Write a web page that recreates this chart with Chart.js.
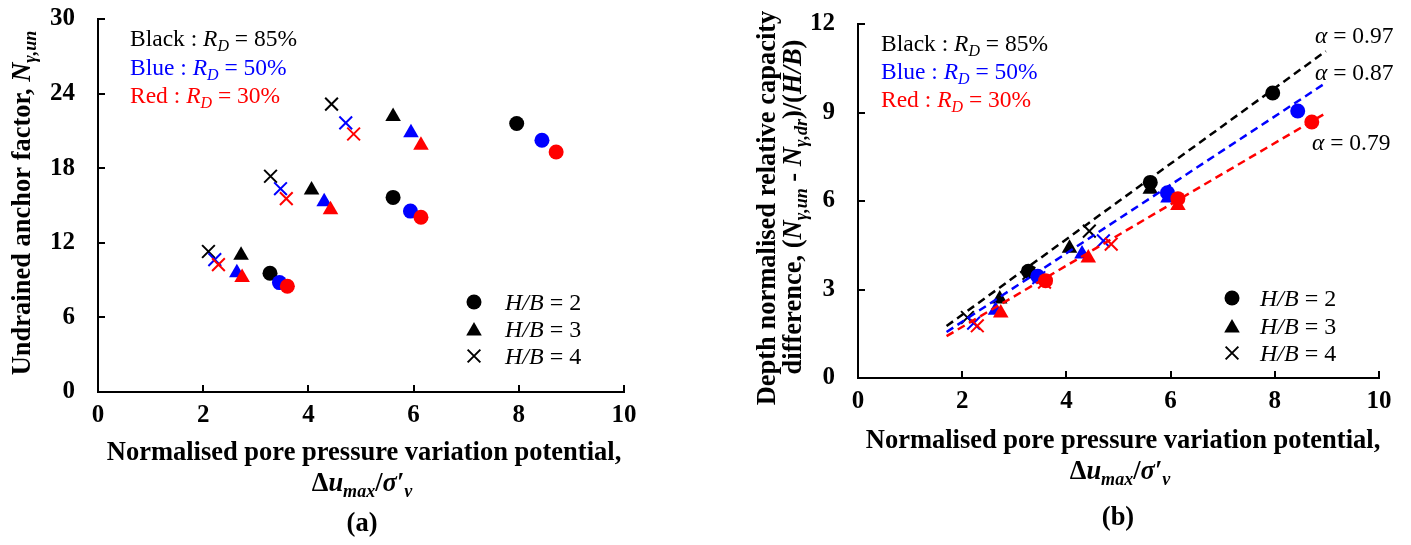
<!DOCTYPE html>
<html><head><meta charset="utf-8">
<script src="https://cdn.jsdelivr.net/npm/chart.js@4.4.1/dist/chart.umd.min.js"></script>
<style>
html,body{margin:0;padding:0;background:#fff;}
#wrap{position:relative;width:1411px;height:545px;background:#fff;}
canvas{position:absolute;left:0;top:0;}
</style></head><body>
<div id="wrap"><canvas id="c1" width="1411" height="545"></canvas><canvas id="c2" width="1411" height="545"></canvas></div>
<script>
// ---------------- DATA ----------------
const xTickValues = [0, 2, 4, 6, 8, 10];
const yTickValuesA = [0, 6, 12, 18, 24, 30];
const yTickValuesB = [0, 3, 6, 9, 12];

// H/B = 2 (circles): normalised pore pressure variation potential
const x_HB2_RD85 = [3.27, 5.61, 7.96];
const x_HB2_RD50 = [3.45, 5.94, 8.44];
const x_HB2_RD30 = [3.60, 6.14, 8.71];
// H/B = 3 (triangles)
const x_HB3_RD85 = [2.72, 4.06, 5.61];
const x_HB3_RD50 = [2.64, 4.30, 5.95];
const x_HB3_RD30 = [2.74, 4.42, 6.14];
// H/B = 4 (crosses)
const x_HB4_RD85 = [2.10, 3.28, 4.44];
const x_HB4_RD50 = [2.22, 3.47, 4.71];
const x_HB4_RD30 = [2.29, 3.58, 4.86];

// (a) Undrained anchor factor N_gamma,un
const N_HB2_RD85 = [9.55, 15.65, 21.6];
const N_HB2_RD50 = [8.8, 14.55, 20.25];
const N_HB2_RD30 = [8.5, 14.05, 19.3];
const N_HB3_RD85 = [11.0, 16.25, 22.15];
const N_HB3_RD50 = [9.6, 15.3, 20.85];
const N_HB3_RD30 = [9.2, 14.65, 19.85];
const N_HB4_RD85 = [11.3, 17.35, 23.15];
const N_HB4_RD50 = [10.65, 16.35, 21.65];
const N_HB4_RD30 = [10.25, 15.55, 20.75];

// (b) Depth normalised relative capacity difference
const D_HB2_RD85 = [3.62, 6.63, 9.66];
const D_HB2_RD50 = [3.45, 6.28, 9.05];
const D_HB2_RD30 = [3.30, 6.08, 8.68];
const D_HB3_RD85 = [2.68, 4.40, 6.40];
const D_HB3_RD50 = [2.30, 4.20, 6.10];
const D_HB3_RD30 = [2.20, 4.07, 5.85];
const D_HB4_RD85 = [2.05, 3.55, 4.98];
const D_HB4_RD50 = [1.86, 3.40, 4.65];
const D_HB4_RD30 = [1.77, 3.25, 4.54];

// (b) linear trend lines (end points)
const fit_RD85_x = [1.70, 8.98];
const fit_RD85_y = [1.76, 11.08];
const fit_RD50_x = [1.70, 9.00];
const fit_RD50_y = [1.56, 10.03];
const fit_RD30_x = [1.70, 8.95];
const fit_RD30_y = [1.42, 8.95];
const alphaLabels = ['0.97', '0.87', '0.79'];

// ---------------- STYLE ----------------
const FAM = "'Liberation Serif','Times New Roman',serif";
const BLACK = '#000000', BLUE = '#0000FF', RED = '#FF0000';
const TITLE_SIZE = 26.5, TICK_SIZE = 25, LEG_SIZE = 23.5;

function pts(xs, ys) { return xs.map((x, i) => ({x: x, y: ys[i]})); }

function markerSet(xs, ys, color, shape) {
  const ds = {data: pts(xs, ys), pointStyle: shape, backgroundColor: color, borderColor: color,
    pointRadius: 7.5, pointBorderWidth: 0, pointHoverRadius: 7.5, showLine: false};
  if (shape === 'triangle') { ds.pointRadius = 9; }
  if (shape === 'crossRot') { ds.pointRadius = 9; ds.pointBorderWidth = 2; ds.pointHoverRadius = 9; }
  return ds;
}
function lineSet(xs, ys, color) {
  return {type: 'line', data: pts(xs, ys), borderColor: color, borderWidth: 2.5, borderDash: [8, 5],
    pointRadius: 0, fill: false, showLine: true, tension: 0};
}

function richText(ctx, segs, x, y, o) {
  ctx.save();
  ctx.translate(x, y);
  if (o.rotate) ctx.rotate(o.rotate);
  ctx.textBaseline = 'alphabetic';
  ctx.textAlign = 'left';
  const pieces = segs.map(s => {
    const sz = s.sub ? o.size * 0.68 : o.size;
    const font = (s.i ? 'italic ' : '') + (s.b ? 'bold ' : '') + sz + 'px ' + FAM;
    ctx.font = font;
    return {t: s.t, font: font, w: ctx.measureText(s.t).width, dy: s.sub ? o.size * 0.22 : 0};
  });
  const total = pieces.reduce((a, p) => a + p.w, 0);
  let cx = o.align === 'center' ? -total / 2 : 0;
  ctx.fillStyle = o.color || '#000';
  for (const p of pieces) { ctx.font = p.font; ctx.fillText(p.t, cx, p.dy); cx += p.w; }
  ctx.restore();
}

function drawMarker(ctx, shape, x, y) {
  ctx.save();
  ctx.fillStyle = '#000'; ctx.strokeStyle = '#000';
  if (shape === 'circle') { ctx.beginPath(); ctx.arc(x, y, 7.5, 0, Math.PI * 2); ctx.fill(); }
  else if (shape === 'triangle') {
    const r = 9; ctx.beginPath();
    ctx.moveTo(x, y - r); ctx.lineTo(x + r * Math.sin(2.0944), y - r * Math.cos(2.0944));
    ctx.lineTo(x + r * Math.sin(4.1888), y - r * Math.cos(4.1888)); ctx.closePath(); ctx.fill();
  } else {
    const d = 9 * Math.cos(Math.PI / 4); ctx.lineWidth = 2; ctx.beginPath();
    ctx.moveTo(x - d, y - d); ctx.lineTo(x + d, y + d); ctx.moveTo(x - d, y + d); ctx.lineTo(x + d, y - d); ctx.stroke();
  }
  ctx.restore();
}

const inwardTicks = {
  id: 'inwardTicks',
  afterDraw(chart) {
    const ctx = chart.ctx, a = chart.chartArea;
    const xs = chart.scales.x, ys = chart.scales.y;
    ctx.save(); ctx.strokeStyle = '#000'; ctx.lineWidth = 2;
    ctx.beginPath();
    xs.ticks.forEach(t => { const p = Math.round(xs.getPixelForValue(t.value)); ctx.moveTo(p, a.bottom); ctx.lineTo(p, a.bottom - 7); });
    ys.ticks.forEach(t => { const p = Math.round(ys.getPixelForValue(t.value)); ctx.moveTo(a.left, p); ctx.lineTo(a.left + 7, p); });
    ctx.stroke(); ctx.restore();
  }
};

function colourLegend(ctx, x, y0, dy) {
  const rows = [['Black : ', '85%', BLACK], ['Blue : ', '50%', BLUE], ['Red : ', '30%', RED]];
  rows.forEach((r, i) => {
    richText(ctx, [{t: r[0]}, {t: 'R', i: 1}, {t: 'D', i: 1, sub: 1}, {t: ' = ' + r[1]}], x, y0 + i * dy, {size: LEG_SIZE, color: r[2]});
  });
}
function shapeLegend(ctx, mx, tx, ys) {
  const shapes = ['circle', 'triangle', 'crossRot'];
  shapes.forEach((s, i) => {
    drawMarker(ctx, s, mx, ys[i] + (s === 'triangle' ? 2 : 0));
    richText(ctx, [{t: 'H/B', i: 1}, {t: ' = ' + (i + 2)}], tx, ys[i] + 8, {size: 24});
  });
}
const xTitleSegs2 = [{t: '\u0394', b: 1}, {t: 'u', b: 1, i: 1}, {t: 'max', b: 1, i: 1, sub: 1}, {t: '/', b: 1}, {t: '\u03C3\u2032', b: 1, i: 1}, {t: 'v', b: 1, i: 1, sub: 1}];

function scaleOpts(min, max, step, ticksArr, isX) {
  return {
    type: 'linear', min: min, max: max, position: isX ? 'bottom' : 'left',
    afterBuildTicks: s => { s.ticks = ticksArr.map(v => ({value: v})); },
    grid: {display: false, drawTicks: false},
    border: {display: true, color: '#000', width: 2},
    ticks: {color: '#000', padding: isX ? 9 : 23, font: {family: FAM, size: TICK_SIZE, weight: 'bold'}, maxRotation: 0},
    afterFit: s => {
      if (isX) { s.height = 60; s.paddingLeft = 5; s.paddingRight = 5; }
      else { s.width = 60; s.paddingTop = 5; s.paddingBottom = 5; }
    }
  };
}
function baseOptions(pad) {
  return {
    responsive: false, animation: false, devicePixelRatio: 1,
    layout: {padding: pad},
    plugins: {legend: {display: false}, tooltip: {enabled: false}},
    events: []
  };
}

// ---------------- CHART (a) ----------------
const optA = baseOptions({left: 38, right: 787, top: 19, bottom: 93});
optA.scales = {x: scaleOpts(0, 10, 2, xTickValues, true), y: scaleOpts(0, 30, 6, yTickValuesA, false)};
new Chart(document.getElementById('c1'), {
  type: 'scatter',
  data: {datasets: [
    markerSet(x_HB2_RD30, N_HB2_RD30, RED, 'circle'),
    markerSet(x_HB2_RD50, N_HB2_RD50, BLUE, 'circle'),
    markerSet(x_HB2_RD85, N_HB2_RD85, BLACK, 'circle'),
    markerSet(x_HB3_RD30, N_HB3_RD30, RED, 'triangle'),
    markerSet(x_HB3_RD50, N_HB3_RD50, BLUE, 'triangle'),
    markerSet(x_HB3_RD85, N_HB3_RD85, BLACK, 'triangle'),
    markerSet(x_HB4_RD30, N_HB4_RD30, RED, 'crossRot'),
    markerSet(x_HB4_RD50, N_HB4_RD50, BLUE, 'crossRot'),
    markerSet(x_HB4_RD85, N_HB4_RD85, BLACK, 'crossRot')
  ]},
  options: optA,
  plugins: [inwardTicks, {
    id: 'textA',
    afterDraw(chart) {
      const ctx = chart.ctx;
      colourLegend(ctx, 130, 46, 28.5);
      shapeLegend(ctx, 474, 505, [302, 329, 356]);
      richText(ctx, [{t: 'Undrained anchor factor, ', b: 1}, {t: 'N', b: 1, i: 1}, {t: '\u03B3,un', b: 1, i: 1, sub: 1}], 30, 203, {size: TITLE_SIZE, align: 'center', rotate: -Math.PI / 2});
      richText(ctx, [{t: 'Normalised pore pressure variation potential,', b: 1}], 364, 460, {size: TITLE_SIZE, align: 'center'});
      richText(ctx, xTitleSegs2, 362, 491, {size: TITLE_SIZE, align: 'center'});
      richText(ctx, [{t: '(a)', b: 1}], 362, 531, {size: TITLE_SIZE, align: 'center'});
    }
  }]
});

// ---------------- CHART (b) ----------------
const optB = baseOptions({left: 798, right: 32, top: 24, bottom: 107});
optB.scales = {x: scaleOpts(0, 10, 2, xTickValues, true), y: scaleOpts(0, 12, 3, yTickValuesB, false)};
new Chart(document.getElementById('c2'), {
  type: 'scatter',
  data: {datasets: [
    lineSet(fit_RD85_x, fit_RD85_y, BLACK),
    lineSet(fit_RD50_x, fit_RD50_y, BLUE),
    lineSet(fit_RD30_x, fit_RD30_y, RED),
    markerSet(x_HB2_RD30, D_HB2_RD30, RED, 'circle'),
    markerSet(x_HB2_RD50, D_HB2_RD50, BLUE, 'circle'),
    markerSet(x_HB2_RD85, D_HB2_RD85, BLACK, 'circle'),
    markerSet(x_HB3_RD30, D_HB3_RD30, RED, 'triangle'),
    markerSet(x_HB3_RD50, D_HB3_RD50, BLUE, 'triangle'),
    markerSet(x_HB3_RD85, D_HB3_RD85, BLACK, 'triangle'),
    markerSet(x_HB4_RD30, D_HB4_RD30, RED, 'crossRot'),
    markerSet(x_HB4_RD50, D_HB4_RD50, BLUE, 'crossRot'),
    markerSet(x_HB4_RD85, D_HB4_RD85, BLACK, 'crossRot')
  ]},
  options: optB,
  plugins: [inwardTicks, {
    id: 'textB',
    afterDraw(chart) {
      const ctx = chart.ctx;
      colourLegend(ctx, 881, 51, 28);
      shapeLegend(ctx, 1232, 1260, [298, 326, 353]);
      const ax = [1315, 1315, 1312], ay = [43, 80, 150];
      alphaLabels.forEach((v, i) => richText(ctx, [{t: '\u03B1', i: 1}, {t: ' = ' + v}], ax[i], ay[i], {size: LEG_SIZE}));
      richText(ctx, [{t: 'Depth normalised relative capacity', b: 1}], 775, 208, {size: TITLE_SIZE, align: 'center', rotate: -Math.PI / 2});
      richText(ctx, [{t: 'difference, (', b: 1}, {t: 'N', b: 1, i: 1}, {t: '\u03B3,un', b: 1, i: 1, sub: 1}, {t: ' - ', b: 1},
        {t: 'N', b: 1, i: 1}, {t: '\u03B3,dr', b: 1, i: 1, sub: 1}, {t: ')/(', b: 1}, {t: 'H/B', b: 1, i: 1}, {t: ')', b: 1}],
        801, 207, {size: TITLE_SIZE, align: 'center', rotate: -Math.PI / 2});
      richText(ctx, [{t: 'Normalised pore pressure variation potential,', b: 1}], 1123, 448, {size: TITLE_SIZE, align: 'center'});
      richText(ctx, xTitleSegs2, 1120, 479, {size: TITLE_SIZE, align: 'center'});
      richText(ctx, [{t: '(b)', b: 1}], 1118, 525, {size: TITLE_SIZE, align: 'center'});
    }
  }]
});
</script>
</body></html>
